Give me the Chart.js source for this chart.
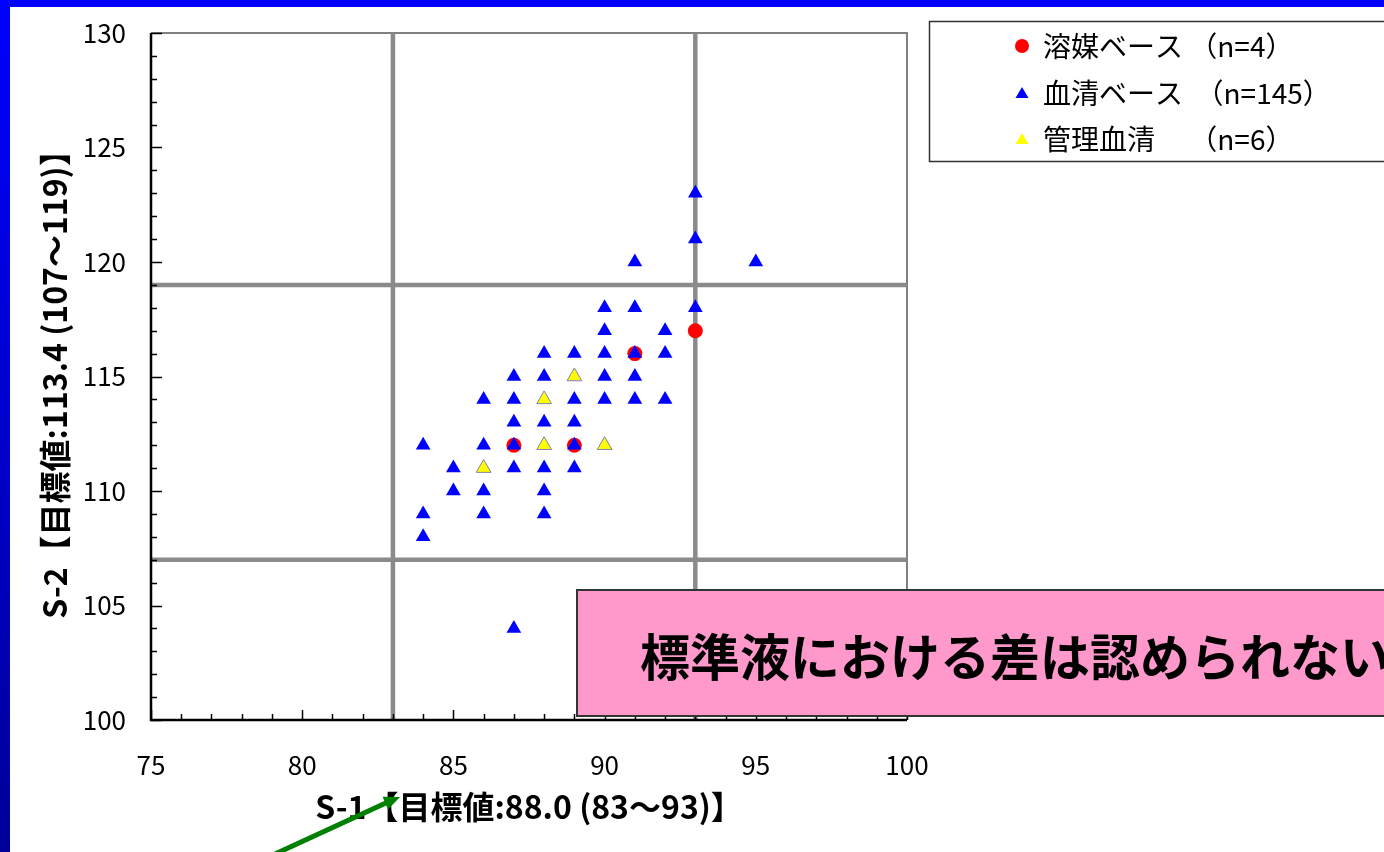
<script src="https://cdn.jsdelivr.net/npm/chart.js@4.4.1/dist/chart.umd.min.js"></script>
<style>
  body { margin: 0; width: 1384px; height: 852px; overflow: hidden; background: #fff; position: relative; font-family: "Noto Sans CJK JP", sans-serif; }
  #wrap { position: absolute; left: 0; top: 0; width: 1384px; height: 852px; }
  #topBar { position: absolute; left: 0; top: 0; width: 1384px; height: 7px; background: #0000ff; }
  #leftBar { position: absolute; left: 0; top: 0; width: 10px; height: 852px; background: linear-gradient(#0000ff, #000099); }
  #note { position: absolute; left: 576px; top: 589px; width: 900px; height: 128px; background: #ff99cc; border: 2px solid #333;
          font: bold 50px "Noto Sans CJK JP"; color: #000; padding-left: 62px; padding-top: 4px; box-sizing: border-box; line-height: 118px; white-space: nowrap; }
  #arrow { position: absolute; left: 0; top: 0; }
</style>

<div id="wrap"><canvas id="myChart" width="1384" height="852"></canvas></div>
<div id="topBar"></div>
<div id="leftBar"></div>
<div id="note">標準液における差は認められない</div>
<svg id="arrow" width="1384" height="852">
  <line x1="262" y1="860" x2="388" y2="802" stroke="#008000" stroke-width="5"/>
  <polygon points="400,797 388,809.6 382.6,796.8" fill="#008000"/>
</svg>

<script>
  // 溶媒ベース
  const solventX = [87, 89, 91, 93];
  const solventY = [112, 112, 116, 117];

  // 血清ベース
  const serumX = [84, 84, 84, 85, 85, 86, 86, 86, 86, 87, 87, 87, 87, 87, 87,
                  88, 88, 88, 88, 88, 88, 89, 89, 89, 89, 89, 90, 90, 90, 90, 90,
                  91, 91, 91, 91, 91, 92, 92, 92, 93, 93, 93, 95];
  const serumY = [112, 109, 108, 111, 110, 114, 112, 110, 109, 115, 114, 113, 112, 111, 104,
                  116, 115, 113, 111, 110, 109, 116, 114, 113, 112, 111, 118, 117, 116, 115, 114,
                  120, 118, 116, 115, 114, 117, 116, 114, 123, 121, 118, 120];

  // 管理血清
  const controlX = [86, 88, 88, 89, 90];
  const controlY = [111, 114, 112, 115, 112];

  const seriesLabels = ["溶媒ベース （n=4）", "血清ベース  （n=145）", "管理血清　 （n=6）"];
  const xTicks = [75, 80, 85, 90, 95, 100];
  const yTicks = [100, 105, 110, 115, 120, 125, 130];
  const targetX = [83, 93];
  const targetY = [107, 119];

  function toPoints(xs, ys) {
    let pts = [];
    for (let i = 0; i < xs.length; i++) pts.push({x: xs[i], y: ys[i]});
    return pts;
  }

  const tickFont = {family: "Noto Sans CJK JP", size: 26};
  const titleFont = {family: "Noto Sans CJK JP", size: 32, weight: "bold"};

  // frame, target lines, inner ticks
  const framePlugin = {
    id: "frame",
    beforeDatasetsDraw(chart) {
      const ctx = chart.ctx;
      const a = chart.chartArea;
      const sx = chart.scales.x, sy = chart.scales.y;
      ctx.save();
      // top / right border
      ctx.strokeStyle = "#808080";
      ctx.lineWidth = 2;
      ctx.beginPath();
      ctx.moveTo(a.left, a.top); ctx.lineTo(a.right, a.top); ctx.lineTo(a.right, a.bottom);
      ctx.stroke();
      // target range lines
      ctx.strokeStyle = "#8a8a8a";
      ctx.lineWidth = 4.5;
      targetX.forEach(v => {
        const px = sx.getPixelForValue(v);
        ctx.beginPath(); ctx.moveTo(px, a.top); ctx.lineTo(px, a.bottom); ctx.stroke();
      });
      targetY.forEach(v => {
        const py = sy.getPixelForValue(v);
        ctx.beginPath(); ctx.moveTo(a.left, py); ctx.lineTo(a.right, py); ctx.stroke();
      });
      // axes
      ctx.strokeStyle = "#000";
      ctx.lineWidth = 2.5;
      ctx.beginPath();
      ctx.moveTo(a.left, a.top); ctx.lineTo(a.left, a.bottom); ctx.lineTo(a.right, a.bottom);
      ctx.stroke();
      ctx.lineWidth = 1.5;
      ctx.beginPath();
      for (let v = sy.min; v <= sy.max; v++) {
        const py = Math.round(sy.getPixelForValue(v)) + 0.5;
        const len = v % 5 == 0 ? 11 : 6;
        ctx.moveTo(a.left, py); ctx.lineTo(a.left + len, py);
      }
      for (let v = sx.min; v <= sx.max; v++) {
        const px = Math.round(sx.getPixelForValue(v)) + 0.5;
        const len = v % 5 == 0 ? 10 : 6;
        ctx.moveTo(px, a.bottom); ctx.lineTo(px, a.bottom - len);
      }
      ctx.stroke();
      ctx.restore();
    },
    afterDraw(chart) {
      // legend box
      const ctx = chart.ctx;
      ctx.save();
      ctx.fillStyle = "#fff";
      ctx.strokeStyle = "#333";
      ctx.lineWidth = 1.5;
      ctx.fillRect(929, 21, 470, 141);
      ctx.strokeRect(929.5, 21.5, 470, 140);
      const rows = [46, 93, 139];
      chart.data.datasets.forEach((ds, i) => {
        const y = rows[i];
        ctx.fillStyle = ds.backgroundColor;
        ctx.beginPath();
        if (ds.pointStyle == "circle") {
          ctx.arc(1022, y, 7, 0, Math.PI * 2);
        } else {
          ctx.moveTo(1022, y - 6); ctx.lineTo(1028.5, y + 5); ctx.lineTo(1015.5, y + 5); ctx.closePath();
        }
        ctx.fill();
        ctx.fillStyle = "#000";
        ctx.font = "28px 'Noto Sans CJK JP'";
        ctx.textBaseline = "middle";
        ctx.fillText(ds.label, 1043, y);
      });
      ctx.restore();
    }
  };

  new Chart("myChart", {
    type: "scatter",
    data: {
      datasets: [
        {
          label: seriesLabels[0],
          data: toPoints(solventX, solventY),
          pointStyle: "circle",
          pointRadius: 7.5,
          backgroundColor: "#ff0000",
          borderColor: "#ff0000",
          borderWidth: 0,
          order: 2
        },
        {
          label: seriesLabels[1],
          data: toPoints(serumX, serumY),
          pointStyle: "triangle",
          pointRadius: 8.5,
          backgroundColor: "#0000ff",
          borderColor: "#0000ff",
          borderWidth: 0,
          order: 1
        },
        {
          label: seriesLabels[2],
          data: toPoints(controlX, controlY),
          pointStyle: "triangle",
          pointRadius: 8.5,
          backgroundColor: "#ffff00",
          borderColor: "#8080b0",
          borderWidth: 1,
          order: 0
        }
      ]
    },
    options: {
      responsive: false,
      animation: false,
      devicePixelRatio: 1,
      layout: {padding: {left: 0, top: 33, right: 477, bottom: 0}},
      plugins: {legend: {display: false}, tooltip: {enabled: false}},
      scales: {
        x: {
          type: "linear",
          min: 75, max: 100,
          afterBuildTicks: s => { s.ticks = xTicks.map(v => ({value: v})); },
          afterFit: s => { s.height = 132; s.paddingLeft = 0; s.paddingRight = 0; },
          grid: {display: false, drawTicks: false},
          border: {display: false},
          ticks: {font: tickFont, color: "#000", padding: 30, maxRotation: 0},
          title: {display: true, text: "S-1【目標値:88.0 (83～93)】", font: titleFont, color: "#000", padding: {top: 0, bottom: 26}}
        },
        y: {
          type: "linear",
          min: 100, max: 130,
          afterBuildTicks: s => { s.ticks = yTicks.map(v => ({value: v})); },
          afterFit: s => { s.width = 151; s.paddingTop = 0; s.paddingBottom = 0; },
          grid: {display: false, drawTicks: false},
          border: {display: false},
          ticks: {font: tickFont, color: "#000", padding: 25},
          title: {display: true, text: "S-2【目標値:113.4 (107～119)】", font: titleFont, color: "#000", padding: {top: 36, bottom: 0}}
        }
      }
    },
    plugins: [framePlugin]
  });
</script>
